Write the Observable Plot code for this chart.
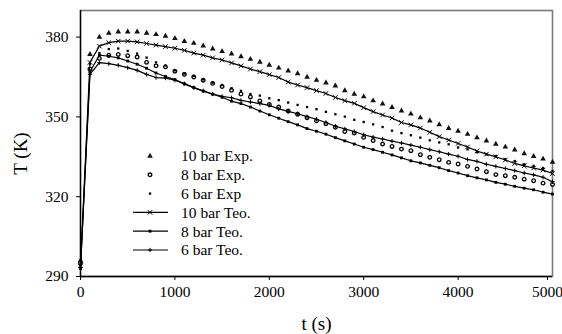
<!DOCTYPE html>
<html><head><meta charset="utf-8">
<script src="https://cdn.jsdelivr.net/npm/d3@7"></script>
<script src="https://cdn.jsdelivr.net/npm/@observablehq/plot@0.6"></script>
<style>body{margin:0;background:#fff}#chart{width:562px;height:334px}</style>
</head><body><div id="chart"></div>
<script>
const times = [0,100,200,300,400,500,600,700,800,900,1000,1100,1200,1300,1400,1500,1600,1700,1800,1900,2000,2100,2200,2300,2400,2500,2600,2700,2800,2900,3000,3100,3200,3300,3400,3500,3600,3700,3800,3900,4000,4100,4200,4300,4400,4500,4600,4700,4800,4900,5000];
const exp10 = [296,373.5,380,381.5,382,382,382,381.5,381,380.4,379.5,378.4,377.7,376.7,375.6,374.6,373.7,372.7,371.7,370.6,369.5,368.4,367.3,366.3,365,363.8,362.8,361.7,359.9,358.6,357.6,356.1,354.9,353.6,352.3,351.1,349.7,348.5,347.1,345.7,344.7,343.5,342.2,341,339.8,338.7,337.6,336.2,335.2,334.2,333];
const exp8 = [295,368,372,373.2,373.5,373,372.5,370.5,369.2,368.8,367.2,366,365,363.8,362.6,361.4,360,358.6,357.5,356,354.7,353.7,352.2,351,349.7,348.5,347.4,346.1,344.5,343.9,342.3,341.1,339.8,338.9,337.9,337.3,335.8,334.8,333.9,332.9,332.3,331.4,330.4,329.4,328.3,327.9,327.3,326.6,326,325.1,324.6];
const exp6 = [294.5,370,374,375.5,375.7,374.8,373.8,372.3,370.5,369.3,367.5,366.3,365.4,364.1,362.9,362,360.8,359.8,358.6,358,357,356.3,355.4,354.5,353.7,352.9,351.9,351,350.1,348.9,348.1,347.2,346.2,344.8,343.9,343.1,342.2,341.2,340.4,339.7,338.5,337.8,336.7,335.9,335.3,334.1,333.4,332.2,331.6,330.8,329.7];
const teo10 = [294,370.5,376.6,377.9,378.5,378.5,378.2,377.6,377,376.4,375.8,375,374,373.2,372.2,371.4,370.3,369.2,368,367,365.9,364.8,363.1,362,361,359.9,358.8,357.3,356.1,355.1,353.5,352,350.7,349.6,347.9,347,345.8,344.2,342.6,341.3,340,338.7,337.2,336,335,333.8,332.5,331.6,330.8,330,328.7];
const teo8 = [293,367,373.2,372.8,372.2,371,369.8,368.3,366.5,365.2,364,362.4,361,359.7,358.5,357.4,355.9,355,353.7,352.2,350.8,349.5,348.2,347,345.6,344.6,343.5,342.2,341,339.8,338.6,337.7,336.7,335.7,334.6,333.5,332.7,331.8,330.9,329.8,328.9,327.9,327.1,326.3,325.4,324.7,323.9,323.2,322.6,321.7,321];
const teo6 = [293.5,366,370.4,370,369.4,368.5,367.5,366,364.8,364.6,363.8,362.5,361,359.8,358.6,357.7,357.2,356.2,355.6,355,354.3,353,352.1,351.2,350.1,349.1,347.9,346.5,345.5,344.5,343.3,342.4,341.7,340.9,340.2,339.4,338.6,337.7,336.9,336,335.2,334,333.3,332.2,331.4,330.6,329.8,328.9,328.2,327.3,325.6];
const seriesNames = ["10 bar Exp.","8 bar Exp.","6 bar Exp","10 bar Teo.","8 bar Teo.","6 bar Teo."];
const xTicks = [0,1000,2000,3000,4000,5000];
const yTicks = [290,320,350,380];
const xLabel = "t (s)";
const yLabel = "T (K)";

const rows = v => times.map((t, i) => ({t, T: v[i]}));
const series = [
  {name: seriesNames[0], data: rows(exp10), line: false, symbol: "triangle", r: 2.1, fill: "#111", stroke: "none", sw: 0},
  {name: seriesNames[1], data: rows(exp8), line: false, symbol: "circle", r: 1.8, fill: "#fff", stroke: "#000", sw: 1.3},
  {name: seriesNames[2], data: rows(exp6), line: false, symbol: "square", r: 1.3, fill: "#000", stroke: "none", sw: 0},
  {name: seriesNames[3], data: rows(teo10), line: true, symbol: "times", r: 2.2, fill: "none", stroke: "#000", sw: 1},
  {name: seriesNames[4], data: rows(teo8), line: true, symbol: "square", r: 1.6, fill: "#000", stroke: "none", sw: 0},
  {name: seriesNames[5], data: rows(teo6), line: true, symbol: "plus", r: 1.5, fill: "none", stroke: "#000", sw: 1}
];

const font = "'Liberation Serif','Times New Roman',serif";
const marks = [
  Plot.frame({stroke: "#7a7a7a", strokeWidth: 1.6}),
  Plot.axisX({ticks: xTicks.slice(0, -1), tickSize: 4, tickPadding: 5, fontSize: 15.5, label: null, tickFormat: "d"}),
  Plot.axisX({ticks: xTicks.slice(-1), tickSize: 4, tickPadding: 5, fontSize: 15.5, label: null, tickFormat: "d", dx: -5}),
  Plot.axisY({ticks: yTicks, tickSize: 4, tickPadding: 8, fontSize: 15.5, label: null, tickFormat: "d"}),
  Plot.ruleX([0], {stroke: "#000", strokeWidth: 1.3}),
  Plot.ruleY([290], {stroke: "#000", strokeWidth: 1.3})
];
for (const s of series) {
  if (s.line) marks.push(Plot.line(s.data, {x: "t", y: "T", stroke: "#000", strokeWidth: 1.2}));
  marks.push(Plot.dot(s.data, {x: "t", y: "T", symbol: () => s.symbol, r: s.r, fill: s.fill, stroke: s.stroke, strokeWidth: s.sw}));
}
marks.push(Plot.text([xLabel], {frameAnchor: "bottom", dy: 47, fontSize: 19, lineAnchor: "middle", fill: "#000"}));
marks.push(Plot.text([yLabel], {frameAnchor: "left", dx: -60, dy: 10, rotate: -90, fontSize: 19, textAnchor: "middle", lineAnchor: "middle", fill: "#000"}));

const chart = Plot.plot({
  width: 562, height: 334,
  marginLeft: 80, marginRight: 10, marginTop: 10, marginBottom: 58,
  style: {fontFamily: font, fontSize: "15.5px", background: "#fff", color: "#000"},
  x: {domain: [0, 5000]},
  y: {domain: [290, 390]},
  marks
});
document.getElementById("chart").appendChild(chart);

// legend inside the plot area
const svg = d3.select(chart);
const lg = svg.append("g").attr("font-family", font).attr("font-size", 15.5).attr("text-anchor", "start");
const symMap = {triangle: d3.symbolTriangle, circle: d3.symbolCircle, square: d3.symbolSquare, times: d3.symbolTimes, plus: d3.symbolPlus};
series.forEach((s, i) => {
  const y = 156 + i * 18.8;
  if (s.line) lg.append("line").attr("x1", 133).attr("x2", 168).attr("y1", y).attr("y2", y).attr("stroke", "#000").attr("stroke-width", 1.2);
  lg.append("path").attr("transform", `translate(150,${y})`)
    .attr("d", d3.symbol(symMap[s.symbol], Math.PI * s.r * s.r)())
    .attr("fill", s.fill).attr("stroke", s.stroke).attr("stroke-width", s.sw);
  lg.append("text").attr("x", 181).attr("y", y).attr("dy", "0.35em").attr("text-anchor", "start").attr("fill", "#000").text(s.name);
});
</script></body></html>
